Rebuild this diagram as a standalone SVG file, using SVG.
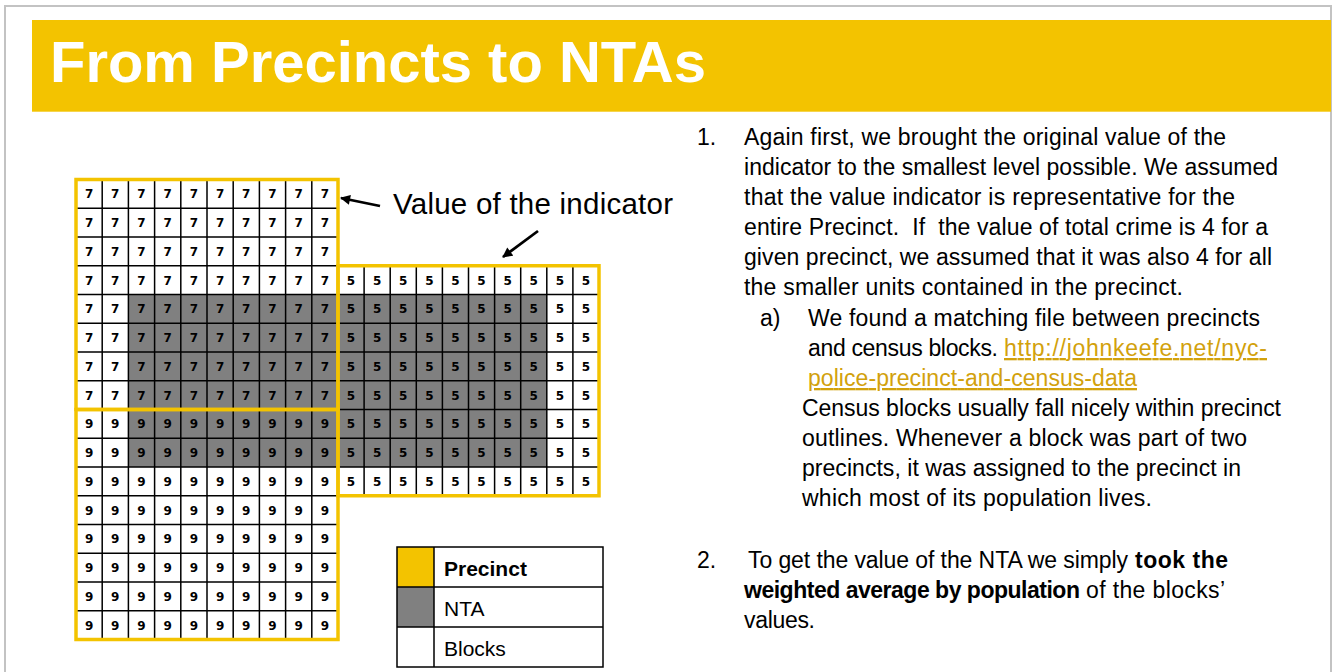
<svg xmlns="http://www.w3.org/2000/svg" width="1334" height="672" viewBox="0 0 1334 672">
  <style>
    .d { font-family: "DejaVu Sans", sans-serif; font-weight: bold; font-size: 12px; fill: #000; text-anchor: middle; }
    .grid { fill: none; stroke: #000; stroke-width: 1.5; }
    .prec { fill: none; stroke: #f3c300; stroke-width: 3.5; }
    .body { font-family: "Liberation Sans", Arial, sans-serif; font-size: 23px; fill: #000; }
    .b { font-weight: bold; }
    .link { fill: #d2a10c; text-decoration: underline; }
    .leg { font-family: "Liberation Sans", Arial, sans-serif; font-size: 21px; fill: #000; }
    .arr { stroke: #000; stroke-width: 2.8; fill: none; marker-end: url(#ah); }
  </style>
  <defs>
    <marker id="ah" viewBox="0 0 10 10" refX="9" refY="5" markerWidth="4" markerHeight="3.6" orient="auto" markerUnits="strokeWidth">
      <path d="M0,0 L10,5 L0,10 z" fill="#000"/>
    </marker>
  </defs>

  <rect x="0" y="0" width="1334" height="672" fill="#fff"/>
  <rect id="frame" x="5" y="6" width="1326" height="700" fill="none" stroke="#c3c3c3" stroke-width="2"/>

  <g id="title">
    <rect x="32" y="20" width="1299" height="91.7" fill="#f3c300"/>
    <text x="50" y="82" font-family="'Liberation Sans', Arial, sans-serif" font-weight="bold" font-size="58" fill="#fff" textLength="656">From Precincts to NTAs</text>
  </g>

  <g id="nta-fill">
    <rect x="128.4" y="294.5" width="418.4" height="172.5" fill="#808080"/>
  </g>

  <g id="grid-left">
    <path class="grid" d="M76,179.5V639.5M102.2,179.5V639.5M128.4,179.5V639.5M154.6,179.5V639.5M180.8,179.5V639.5M207,179.5V639.5M233.2,179.5V639.5M259.4,179.5V639.5M285.6,179.5V639.5M311.8,179.5V639.5M338,179.5V639.5
      M76,179.5H338M76,208.25H338M76,237H338M76,265.75H338M76,294.5H338M76,323.25H338M76,352H338M76,380.75H338M76,409.5H338M76,438.25H338M76,467H338M76,495.75H338M76,524.5H338M76,553.25H338M76,582H338M76,610.75H338M76,639.5H338"/>
    <g id="precinct-7">
      <text class="d" x="89.1 115.3 141.5 167.7 193.9 220.1 246.3 272.5 298.7 324.9" y="198.3">7777777777</text>
      <text class="d" x="89.1 115.3 141.5 167.7 193.9 220.1 246.3 272.5 298.7 324.9" y="227.05">7777777777</text>
      <text class="d" x="89.1 115.3 141.5 167.7 193.9 220.1 246.3 272.5 298.7 324.9" y="255.8">7777777777</text>
      <text class="d" x="89.1 115.3 141.5 167.7 193.9 220.1 246.3 272.5 298.7 324.9" y="284.55">7777777777</text>
      <text class="d" x="89.1 115.3 141.5 167.7 193.9 220.1 246.3 272.5 298.7 324.9" y="313.3">7777777777</text>
      <text class="d" x="89.1 115.3 141.5 167.7 193.9 220.1 246.3 272.5 298.7 324.9" y="342.05">7777777777</text>
      <text class="d" x="89.1 115.3 141.5 167.7 193.9 220.1 246.3 272.5 298.7 324.9" y="370.8">7777777777</text>
      <text class="d" x="89.1 115.3 141.5 167.7 193.9 220.1 246.3 272.5 298.7 324.9" y="399.55">7777777777</text>
    </g>
    <g id="precinct-9">
      <text class="d" x="89.1 115.3 141.5 167.7 193.9 220.1 246.3 272.5 298.7 324.9" y="428.3">9999999999</text>
      <text class="d" x="89.1 115.3 141.5 167.7 193.9 220.1 246.3 272.5 298.7 324.9" y="457.05">9999999999</text>
      <text class="d" x="89.1 115.3 141.5 167.7 193.9 220.1 246.3 272.5 298.7 324.9" y="485.8">9999999999</text>
      <text class="d" x="89.1 115.3 141.5 167.7 193.9 220.1 246.3 272.5 298.7 324.9" y="514.55">9999999999</text>
      <text class="d" x="89.1 115.3 141.5 167.7 193.9 220.1 246.3 272.5 298.7 324.9" y="543.3">9999999999</text>
      <text class="d" x="89.1 115.3 141.5 167.7 193.9 220.1 246.3 272.5 298.7 324.9" y="572.05">9999999999</text>
      <text class="d" x="89.1 115.3 141.5 167.7 193.9 220.1 246.3 272.5 298.7 324.9" y="600.8">9999999999</text>
      <text class="d" x="89.1 115.3 141.5 167.7 193.9 220.1 246.3 272.5 298.7 324.9" y="629.55">9999999999</text>
    </g>
  </g>

  <g id="grid-right">
    <path class="grid" d="M338,265.75V495.75M364.1,265.75V495.75M390.2,265.75V495.75M416.3,265.75V495.75M442.4,265.75V495.75M468.5,265.75V495.75M494.6,265.75V495.75M520.7,265.75V495.75M546.8,265.75V495.75M572.9,265.75V495.75M599,265.75V495.75
      M338,265.75H599M338,294.5H599M338,323.25H599M338,352H599M338,380.75H599M338,409.5H599M338,438.25H599M338,467H599M338,495.75H599"/>
    <g id="precinct-5">
      <text class="d" x="351.05 377.15 403.25 429.35 455.45 481.55 507.65 533.75 559.85 585.95" y="284.55">5555555555</text>
      <text class="d" x="351.05 377.15 403.25 429.35 455.45 481.55 507.65 533.75 559.85 585.95" y="313.3">5555555555</text>
      <text class="d" x="351.05 377.15 403.25 429.35 455.45 481.55 507.65 533.75 559.85 585.95" y="342.05">5555555555</text>
      <text class="d" x="351.05 377.15 403.25 429.35 455.45 481.55 507.65 533.75 559.85 585.95" y="370.8">5555555555</text>
      <text class="d" x="351.05 377.15 403.25 429.35 455.45 481.55 507.65 533.75 559.85 585.95" y="399.55">5555555555</text>
      <text class="d" x="351.05 377.15 403.25 429.35 455.45 481.55 507.65 533.75 559.85 585.95" y="428.3">5555555555</text>
      <text class="d" x="351.05 377.15 403.25 429.35 455.45 481.55 507.65 533.75 559.85 585.95" y="457.05">5555555555</text>
      <text class="d" x="351.05 377.15 403.25 429.35 455.45 481.55 507.65 533.75 559.85 585.95" y="485.8">5555555555</text>
    </g>
  </g>

  <g id="precinct-outlines">
    <rect class="prec" x="76" y="179.5" width="262" height="230"/>
    <rect class="prec" x="76" y="409.5" width="262" height="230"/>
    <rect class="prec" x="338" y="265.75" width="261" height="230"/>
  </g>

  <g id="label-value">
    <text x="393" y="214" font-family="'Liberation Sans', Arial, sans-serif" font-size="29.5" fill="#000" textLength="280">Value of the indicator</text>
  </g>

  <g id="connectors">
    <line class="arr" x1="380" y1="206" x2="341" y2="198"/>
    <line class="arr" x1="538" y1="231" x2="503" y2="257"/>
  </g>

  <g id="legend">
    <rect x="397" y="547" width="37" height="40" fill="#f3c300"/>
    <rect x="397" y="587" width="37" height="40" fill="#808080"/>
    <rect x="397" y="547" width="206" height="120" fill="none" stroke="#000" stroke-width="1.5"/>
    <path d="M434,547V667M397,587H603M397,627H603" stroke="#000" stroke-width="1.5" fill="none"/>
    <text class="leg b" x="444" y="576">Precinct</text>
    <text class="leg" x="444" y="616">NTA</text>
    <text class="leg" x="444" y="656">Blocks</text>
  </g>

  <g id="text-body">
    <text class="body" x="697" y="145">1.</text>
    <text class="body" x="744" y="145" textLength="482">Again first, we brought the original value of the</text>
    <text class="body" x="744" y="175" textLength="534">indicator to the smallest level possible. We assumed</text>
    <text class="body" x="744" y="205" textLength="491">that the value indicator is representative for the</text>
    <text class="body" x="744" y="235" textLength="524" xml:space="preserve">entire Precinct.  If  the value of total crime is 4 for a</text>
    <text class="body" x="744" y="265" textLength="528">given precinct, we assumed that it was also 4 for all</text>
    <text class="body" x="744" y="295" textLength="439">the smaller units contained in the precinct.</text>
    <text class="body" x="760" y="326">a)</text>
    <text class="body" x="808" y="326" textLength="452">We found a matching file between precincts</text>
    <text class="body" x="808" y="356" textLength="190">and census blocks.</text>
    <text class="body link" x="1004" y="356" textLength="263">http://johnkeefe.net/nyc-</text>
    <text class="body link" x="808" y="386" textLength="329">police-precinct-and-census-data</text>
    <text class="body" x="802" y="416" textLength="479">Census blocks usually fall nicely within precinct</text>
    <text class="body" x="802" y="446" textLength="445">outlines. Whenever a block was part of two</text>
    <text class="body" x="802" y="476" textLength="439">precincts, it was assigned to the precinct in</text>
    <text class="body" x="802" y="506" textLength="350">which most of its population lives.</text>
    <text class="body" x="697" y="568">2.</text>
    <text class="body" x="748" y="568" textLength="380">To get the value of the NTA we simply</text>
    <text class="body b" x="1135" y="568" textLength="93">took the</text>
    <text class="body b" x="744" y="598" textLength="336">weighted average by population</text>
    <text class="body" x="1086" y="598" textLength="139">of the blocks’</text>
    <text class="body" x="744" y="628" textLength="71">values.</text>
  </g>
</svg>
